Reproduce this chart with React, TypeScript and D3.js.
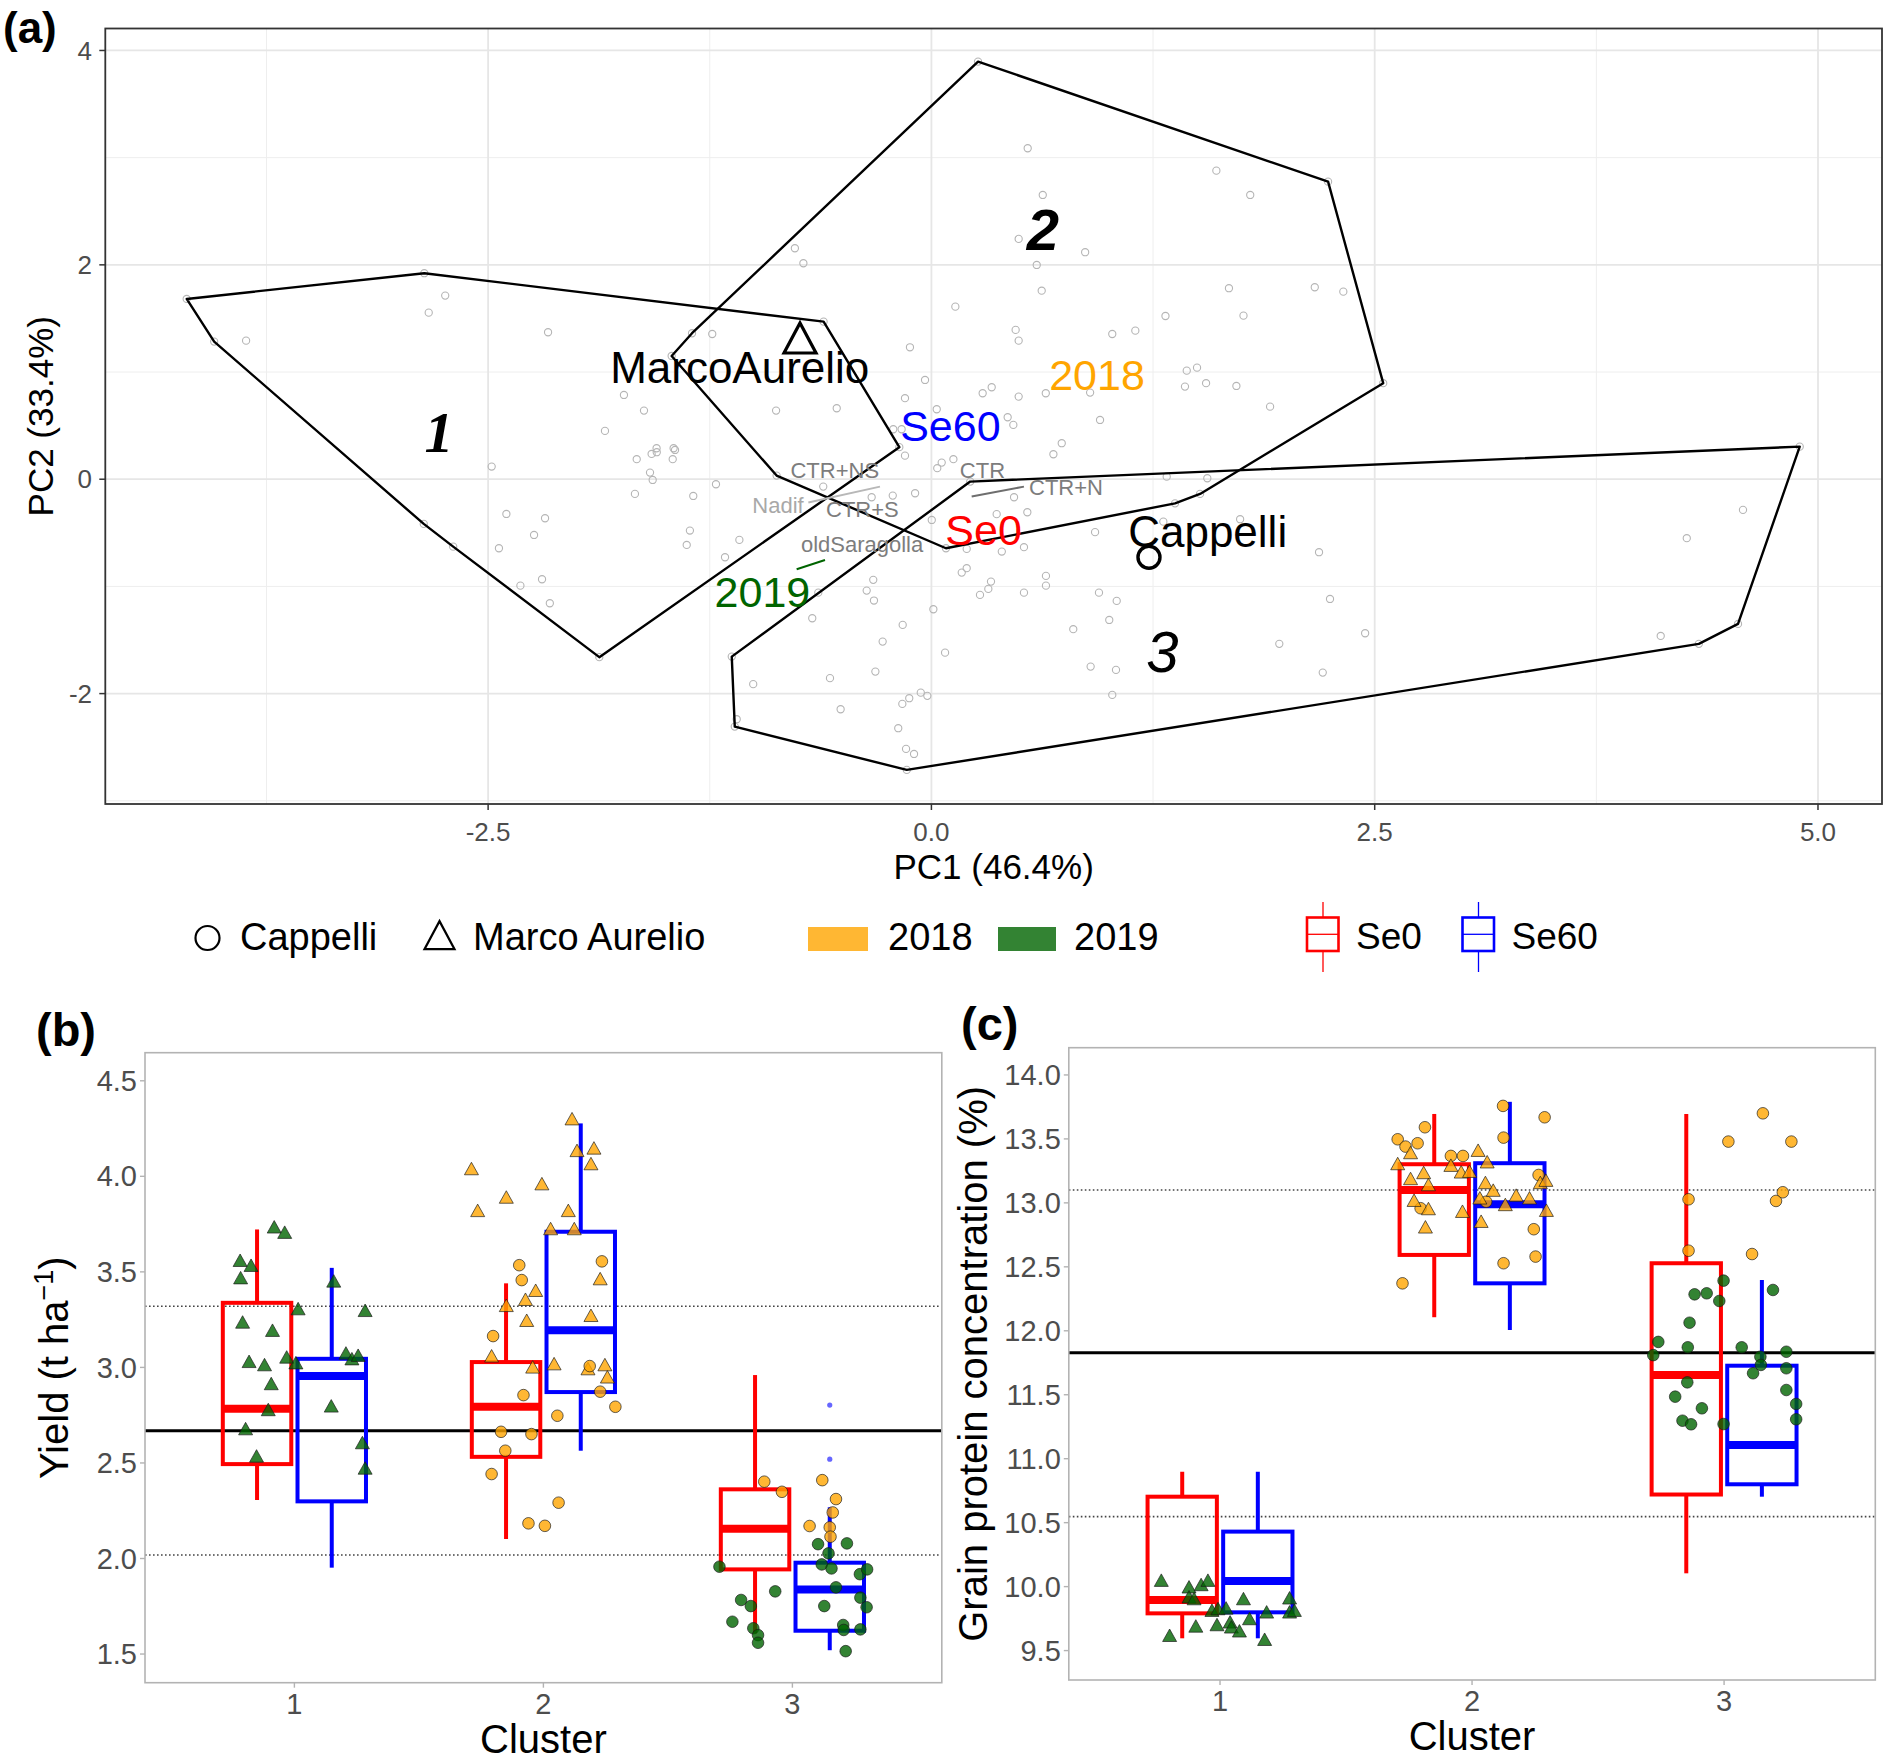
import React from "react";
import * as d3 from "d3";

const FONT = "'Liberation Sans', Arial, Helvetica, sans-serif";

// ---------------- Panel (a): PCA ----------------
const pcaXTicks = [-2.5, 0, 2.5, 5];
const pcaXMinor = [-3.75, -1.25, 1.25, 3.75];
const pcaYTicks = [-2, 0, 2, 4];
const pcaYMinor = [-3, -1, 1, 3];

const pcaScores: [number, number][] = [
  [-2.742, 1.713], [-2.835, 1.554], [-3.865, 1.293], [-2.162, 1.371], [-1.236, 1.355], [-0.77, 2.155], [-0.722, 2.015], [0.135, 1.61], [-1.55, 0.289], [-1.454, 0.289],
  [-0.121, 1.231], [-0.036, 0.926], [0.34, 0.858], [0.289, 0.802], [-0.149, 0.756], [-0.534, 0.662], [-0.876, 0.64], [-1.621, 0.64], [-1.734, 0.786], [-1.841, 0.451],
  [0.03, 0.653], [-0.215, 0.466], [-0.168, 0.466], [-1.446, 0.273], [-1.549, 0.252], [-1.578, 0.236], [-1.662, 0.187], [-1.459, 0.187], [-0.149, 0.22], [0.124, 0.187],
  [0.058, 0.155], [0.033, 0.103], [-1.587, 0.062], [-1.572, -0.007], [-1.215, -0.047], [-0.61, -0.069], [-1.672, -0.137], [-1.343, -0.156], [-0.337, -0.168], [-0.218, -0.153],
  [-0.092, -0.131], [0.002, -0.38], [0.368, -0.326], [-1.362, -0.479], [-1.083, -0.566], [-1.38, -0.613], [0.199, -0.65], [0.397, -0.675], [-1.164, -0.728], [0.171, -0.871],
  [0.199, -0.83], [0.336, -0.955], [0.321, -1.023], [0.274, -1.079], [-0.328, -0.939], [-0.365, -1.039], [-0.324, -1.132], [-0.638, -1.058], [0.011, -1.213], [-0.672, -1.297],
  [-0.162, -1.359], [-0.275, -1.515], [0.077, -1.618], [-0.572, -1.856], [-0.316, -1.795], [-1.005, -1.912], [-0.06, -1.991], [-0.125, -2.043], [-0.023, -2.021], [-0.164, -2.096],
  [-0.512, -2.146], [-1.098, -2.239], [-0.187, -2.323], [-0.143, -2.516], [-0.098, -2.563],
  [0.462, 0.507], [0.735, 0.336], [0.688, 0.233], [0.951, 0.553], [1.327, 0.024], [1.556, 0.009], [0.466, -0.168], [0.541, -0.308], [1.308, -0.396], [1.741, -0.373],
  [0.923, -0.494], [0.522, -0.634], [2.186, -0.681], [0.646, -0.902], [0.646, -0.993], [0.522, -1.058], [0.945, -1.058], [1.045, -1.135], [2.248, -1.117], [1.003, -1.313],
  [0.8, -1.399], [2.446, -1.437], [1.962, -1.536], [0.898, -1.748], [1.041, -1.779], [2.207, -1.804],
  [0.543, 3.088], [1.607, 2.879], [1.798, 2.652], [0.628, 2.652], [0.492, 2.242], [0.867, 2.118], [0.594, 1.999], [0.622, 1.759], [1.678, 1.782], [2.162, 1.791],
  [2.323, 1.75], [1.32, 1.523], [1.76, 1.526], [0.475, 1.393], [0.492, 1.293], [1.02, 1.355], [1.15, 1.386], [1.44, 1.013], [1.498, 1.041], [1.43, 0.864],
  [1.549, 0.896], [1.72, 0.87], [1.91, 0.677], [0.492, 0.771], [0.645, 0.802], [0.895, 0.808], [0.43, 0.578],
  [4.577, -0.286], [4.26, -0.55], [4.113, -1.462], [1.02, -2.012],
  [-2.48, 0.118], [-2.397, -0.324], [-2.179, -0.364], [-2.241, -0.52], [-2.439, -0.644], [-2.196, -0.933], [-2.318, -0.993], [-2.152, -1.157],
];

const hullCluster1: [number, number][] = [
  [-4.2, 1.682], [-2.86, 1.922], [-0.608, 1.47], [-0.181, 0.299], [-1.873, -1.66], [-2.697, -0.629], [-2.863, -0.417], [-4.045, 1.284],
];
const hullCluster2: [number, number][] = [
  [0.263, 3.896], [2.237, 2.776], [2.548, 0.896], [1.515, -0.137], [1.374, -0.225], [0.082, -0.644], [-0.873, 0.034], [-1.465, 1.15], [-1.35, 1.362],
];
const hullCluster3: [number, number][] = [
  [0.219, -0.022], [4.897, 0.304], [4.549, -1.35], [4.328, -1.536], [-0.139, -2.712], [-1.109, -2.308], [-1.126, -1.655],
];

const clusterLabels = [
  { label: "1", x: -2.777, y: 0.257 },
  { label: "2", x: 0.628, y: 2.139 },
  { label: "3", x: 1.303, y: -1.795 },
];
const genotypeLabels = [
  { label: "MarcoAurelio", x: -1.081, y: 0.896 },
  { label: "Cappelli", x: 1.558, y: -0.629 },
];
const genotypeMarkers = [
  { genotype: "MarcoAurelio", x: -0.741, y: 1.284 },
  { genotype: "Cappelli", x: 1.227, y: -0.728 },
];
const seLabels = [
  { label: "Se60", x: 0.107, y: 0.36 },
  { label: "Se0", x: 0.294, y: -0.613 },
];
const yearLabels = [
  { label: "2018", x: 0.934, y: 0.833 },
  { label: "2019", x: -0.953, y: -1.188 },
];
const treatmentLabels = [
  { label: "CTR+NS", x: -0.545, y: 0.015 },
  { label: "Nadif", x: -0.865, y: -0.317 },
  { label: "CTR+S", x: -0.389, y: -0.349 },
  { label: "oldSaragolla", x: -0.391, y: -0.675 },
  { label: "CTR", x: 0.288, y: 0.015 },
  { label: "CTR+N", x: 0.759, y: -0.146 },
];
const labelSegments = [
  { from: [-0.694, -0.218], to: [-0.29, -0.069], kind: "light" },
  { from: [-0.76, -0.84], to: [-0.6, -0.753], kind: "green" },
  { from: [0.227, -0.162], to: [0.522, -0.069], kind: "dark" },
];

// ---------------- Panels (b), (c): boxplots ----------------
const clusters = [1, 2, 3];
const yieldTicks = [1.5, 2.0, 2.5, 3.0, 3.5, 4.0, 4.5];
const proteinTicks = [9.5, 10.0, 10.5, 11.0, 11.5, 12.0, 12.5, 13.0, 13.5, 14.0];

const yieldBoxes = [
  { cl: 1, se: "Se0", lo: 2.306, q1: 2.494, med: 2.784, q3: 3.338, hi: 3.722 },
  { cl: 1, se: "Se60", lo: 1.952, q1: 2.299, med: 2.955, q3: 3.045, hi: 3.521 },
  { cl: 2, se: "Se0", lo: 2.102, q1: 2.532, med: 2.794, q3: 3.028, hi: 3.44 },
  { cl: 2, se: "Se60", lo: 2.564, q1: 2.871, med: 3.195, q3: 3.71, hi: 4.277 },
  { cl: 3, se: "Se0", lo: 1.608, q1: 1.943, med: 2.156, q3: 2.362, hi: 2.96 },
  { cl: 3, se: "Se60", lo: 1.52, q1: 1.622, med: 1.838, q3: 1.978, hi: 2.268 },
];
const yieldOutliers = [
  { cl: 3, se: "Se60", v: 2.803 },
  { cl: 3, se: "Se60", v: 2.52 },
];
const yieldMean = 2.668;
const yieldDotted = [3.32, 2.018];

// [cluster, jitter, value, genotype, year]
const yieldPoints: [number, number, number, string, number][] = [
  [1, -0.081, 3.728, "MA", 2019], [1, -0.039, 3.7, "MA", 2019], [1, -0.218, 3.553, "MA", 2019], [1, -0.174, 3.527, "MA", 2019],
  [1, -0.216, 3.462, "MA", 2019], [1, 0.158, 3.445, "MA", 2019], [1, 0.015, 3.3, "MA", 2019], [1, 0.284, 3.291, "MA", 2019],
  [1, -0.208, 3.23, "MA", 2019], [1, -0.088, 3.187, "MA", 2019], [1, -0.182, 3.024, "MA", 2019], [1, -0.12, 3.007, "MA", 2019],
  [1, -0.031, 3.047, "MA", 2019], [1, 0.006, 3.017, "MA", 2019], [1, 0.207, 3.068, "MA", 2019], [1, 0.231, 3.038, "MA", 2019],
  [1, 0.256, 3.056, "MA", 2019], [1, -0.093, 2.908, "MA", 2019], [1, 0.148, 2.791, "MA", 2019], [1, -0.105, 2.772, "MA", 2019],
  [1, -0.196, 2.672, "MA", 2019], [1, 0.273, 2.599, "MA", 2019], [1, -0.152, 2.529, "MA", 2019], [1, 0.284, 2.466, "MA", 2019],
  [2, 0.115, 4.294, "MA", 2018], [2, -0.289, 4.033, "MA", 2018], [2, 0.135, 4.128, "MA", 2018], [2, 0.203, 4.141, "MA", 2018],
  [2, 0.191, 4.059, "MA", 2018], [2, -0.006, 3.954, "MA", 2018], [2, -0.149, 3.884, "MA", 2018], [2, -0.264, 3.814, "MA", 2018],
  [2, 0.1, 3.814, "MA", 2018], [2, 0.029, 3.719, "MA", 2018], [2, 0.124, 3.719, "MA", 2018], [2, -0.031, 3.396, "MA", 2018],
  [2, -0.072, 3.349, "MA", 2018], [2, 0.228, 3.457, "MA", 2018], [2, -0.149, 3.317, "MA", 2018], [2, -0.067, 3.239, "MA", 2018],
  [2, 0.191, 3.265, "MA", 2018], [2, -0.208, 3.053, "MA", 2018], [2, -0.043, 2.995, "MA", 2018], [2, 0.043, 3.012, "MA", 2018],
  [2, 0.179, 2.986, "MA", 2018], [2, 0.247, 3.007, "MA", 2018], [2, 0.257, 2.943, "MA", 2018],
  [2, -0.097, 3.535, "C", 2018], [2, -0.087, 3.457, "C", 2018], [2, 0.235, 3.555, "C", 2018], [2, -0.202, 3.164, "C", 2018],
  [2, -0.08, 2.855, "C", 2018], [2, 0.228, 2.873, "C", 2018], [2, 0.289, 2.794, "C", 2018], [2, 0.056, 2.747, "C", 2018],
  [2, -0.17, 2.663, "C", 2018], [2, -0.048, 2.651, "C", 2018], [2, -0.153, 2.564, "C", 2018], [2, -0.208, 2.442, "C", 2018],
  [2, 0.061, 2.292, "C", 2018], [2, -0.06, 2.184, "C", 2018], [2, 0.006, 2.171, "C", 2018], [2, 0.186, 3.007, "C", 2018],
  [3, -0.113, 2.402, "C", 2018], [3, -0.042, 2.349, "C", 2018], [3, 0.12, 2.41, "C", 2018], [3, 0.175, 2.311, "C", 2018],
  [3, 0.162, 2.241, "C", 2018], [3, 0.069, 2.17, "C", 2018], [3, 0.15, 2.163, "C", 2018], [3, 0.153, 2.114, "C", 2018],
  [3, -0.293, 1.957, "C", 2019], [3, -0.206, 1.783, "C", 2019], [3, -0.167, 1.751, "C", 2019], [3, -0.069, 1.828, "C", 2019],
  [3, -0.241, 1.669, "C", 2019], [3, -0.157, 1.635, "C", 2019], [3, -0.138, 1.599, "C", 2019], [3, -0.138, 1.559, "C", 2019],
  [3, 0.103, 2.075, "C", 2019], [3, 0.219, 2.079, "C", 2019], [3, 0.145, 2.027, "C", 2019], [3, 0.118, 1.969, "C", 2019],
  [3, 0.157, 1.948, "C", 2019], [3, 0.175, 1.849, "C", 2019], [3, 0.271, 1.918, "C", 2019], [3, 0.3, 1.943, "C", 2019],
  [3, 0.128, 1.751, "C", 2019], [3, 0.273, 1.795, "C", 2019], [3, 0.298, 1.745, "C", 2019], [3, 0.204, 1.652, "C", 2019],
  [3, 0.206, 1.626, "C", 2019], [3, 0.273, 1.629, "C", 2019], [3, 0.214, 1.515, "C", 2019],
];

const proteinBoxes = [
  { cl: 1, se: "Se0", lo: 9.596, q1: 9.791, med: 9.895, q3: 10.703, hi: 10.898 },
  { cl: 1, se: "Se60", lo: 9.596, q1: 9.799, med: 10.044, q3: 10.43, hi: 10.898 },
  { cl: 2, se: "Se0", lo: 12.106, q1: 12.593, med: 13.1, q3: 13.302, hi: 13.695 },
  { cl: 2, se: "Se60", lo: 12.006, q1: 12.371, med: 12.99, q3: 13.31, hi: 13.79 },
  { cl: 3, se: "Se0", lo: 10.104, q1: 10.72, med: 11.655, q3: 12.528, hi: 13.695 },
  { cl: 3, se: "Se60", lo: 10.703, q1: 10.8, med: 11.107, q3: 11.727, hi: 12.397 },
];
const proteinMean = 11.829;
const proteinDotted = [13.1, 10.547];

const proteinPoints: [number, number, number, string, number][] = [
  [1, -0.233, 10.039, "MA", 2019], [1, -0.123, 9.987, "MA", 2019], [1, -0.075, 10.005, "MA", 2019], [1, -0.048, 10.039, "MA", 2019],
  [1, -0.123, 9.909, "MA", 2019], [1, -0.103, 9.895, "MA", 2019], [1, 0.093, 9.895, "MA", 2019], [1, 0.276, 9.901, "MA", 2019],
  [1, -0.032, 9.804, "MA", 2019], [1, -0.008, 9.817, "MA", 2019], [1, 0.024, 9.822, "MA", 2019], [1, 0.185, 9.791, "MA", 2019],
  [1, 0.276, 9.791, "MA", 2019], [1, 0.295, 9.804, "MA", 2019], [1, -0.2, 9.608, "MA", 2019], [1, -0.096, 9.681, "MA", 2019],
  [1, -0.012, 9.692, "MA", 2019], [1, 0.04, 9.713, "MA", 2019], [1, 0.045, 9.674, "MA", 2019], [1, 0.077, 9.643, "MA", 2019],
  [1, 0.117, 9.739, "MA", 2019], [1, 0.177, 9.577, "MA", 2019],
  [2, -0.295, 13.497, "C", 2018], [2, -0.264, 13.44, "C", 2018], [2, -0.216, 13.466, "C", 2018], [2, -0.187, 13.591, "C", 2018],
  [2, -0.084, 13.367, "C", 2018], [2, -0.036, 13.367, "C", 2018], [2, -0.276, 12.371, "C", 2018], [2, -0.204, 12.958, "C", 2018],
  [2, 0.123, 13.758, "C", 2018], [2, 0.125, 13.51, "C", 2018], [2, 0.288, 13.669, "C", 2018], [2, 0.264, 13.218, "C", 2018],
  [2, 0.056, 13.009, "C", 2018], [2, 0.245, 12.794, "C", 2018], [2, 0.252, 12.58, "C", 2018], [2, 0.125, 12.528, "C", 2018],
  [2, -0.295, 13.296, "MA", 2018], [2, -0.244, 13.382, "MA", 2018], [2, -0.244, 13.179, "MA", 2018], [2, -0.192, 13.226, "MA", 2018],
  [2, -0.173, 13.132, "MA", 2018], [2, -0.084, 13.283, "MA", 2018], [2, -0.043, 13.231, "MA", 2018], [2, -0.01, 13.236, "MA", 2018],
  [2, 0.024, 13.4, "MA", 2018], [2, 0.06, 13.31, "MA", 2018], [2, -0.23, 13.009, "MA", 2018], [2, -0.173, 12.944, "MA", 2018],
  [2, -0.038, 12.923, "MA", 2018], [2, -0.185, 12.801, "MA", 2018], [2, 0.053, 13.148, "MA", 2018], [2, 0.084, 13.088, "MA", 2018],
  [2, 0.031, 13.028, "MA", 2018], [2, 0.132, 12.976, "MA", 2018], [2, 0.175, 13.049, "MA", 2018], [2, 0.228, 13.028, "MA", 2018],
  [2, 0.036, 12.845, "MA", 2018], [2, 0.271, 13.148, "MA", 2018], [2, 0.293, 13.166, "MA", 2018], [2, 0.295, 12.931, "MA", 2018],
  [3, 0.017, 13.479, "C", 2018], [3, 0.154, 13.7, "C", 2018], [3, 0.267, 13.479, "C", 2018], [3, -0.141, 13.028, "C", 2018],
  [3, 0.206, 13.015, "C", 2018], [3, 0.233, 13.083, "C", 2018], [3, -0.141, 12.626, "C", 2018], [3, 0.111, 12.6, "C", 2018],
  [3, -0.002, 12.392, "C", 2019], [3, -0.117, 12.285, "C", 2019], [3, -0.069, 12.293, "C", 2019], [3, -0.019, 12.233, "C", 2019],
  [3, -0.137, 12.063, "C", 2019], [3, -0.261, 11.913, "C", 2019], [3, -0.281, 11.81, "C", 2019], [3, -0.144, 11.871, "C", 2019],
  [3, 0.07, 11.871, "C", 2019], [3, 0.194, 12.319, "C", 2019], [3, 0.144, 11.797, "C", 2019], [3, 0.247, 11.836, "C", 2019],
  [3, 0.146, 11.733, "C", 2019], [3, 0.247, 11.707, "C", 2019], [3, 0.115, 11.668, "C", 2019], [3, -0.146, 11.597, "C", 2019],
  [3, 0.247, 11.537, "C", 2019], [3, -0.194, 11.485, "C", 2019], [3, -0.088, 11.394, "C", 2019], [3, -0.165, 11.297, "C", 2019],
  [3, -0.131, 11.269, "C", 2019], [3, -0.002, 11.271, "C", 2019], [3, 0.286, 11.428, "C", 2019], [3, 0.286, 11.308, "C", 2019],
];

const seColors: Record<string, string> = { Se0: "#FF0000", Se60: "#0000FF" };
const yearColors: Record<number, string> = { 2018: "#FFA500", 2019: "#006400" };
const legendYearFill: Record<number, string> = { 2018: "#FFB733", 2019: "#338333" };
const seDodge: Record<string, number> = { Se0: -0.15, Se60: 0.15 };
const BOX_W = 0.275;

function tri(cx: number, cy: number, w: number, h: number) {
  return `M${cx},${cy - h * 0.62}L${cx + w / 2},${cy + h * 0.38}L${cx - w / 2},${cy + h * 0.38}Z`;
}

type Scale = d3.ScaleLinear<number, number>;

function BoxPanel(props: {
  x: Scale; y: Scale; boxes: any[]; outliers: any[]; points: [number, number, number, string, number][];
  mean: number; dotted: number[]; ticks: number[];
}) {
  const { x, y, boxes, outliers, points, mean, dotted, ticks } = props;
  const [x0, x1] = x.range();
  const [y0, y1] = y.range();
  const grey = "#b3b3b3";
  return (
    <g>
      <rect x={x0} y={y1} width={x1 - x0} height={y0 - y1} fill="white" />
      {dotted.map((v, i) => (
        <line key={"d" + i} x1={x0} x2={x1} y1={y(v)} y2={y(v)} stroke="#444" strokeWidth={1.6} strokeDasharray="1.6,2.4" />
      ))}
      <line x1={x0} x2={x1} y1={y(mean)} y2={y(mean)} stroke="#000" strokeWidth={3} />
      {boxes.map((b, i) => {
        const c = b.cl + seDodge[b.se];
        const col = seColors[b.se];
        const xl = x(c - BOX_W / 2), xr = x(c + BOX_W / 2), xc = x(c);
        return (
          <g key={"b" + i}>
            <line x1={xc} x2={xc} y1={y(b.hi)} y2={y(b.q3)} stroke={col} strokeWidth={4} />
            <line x1={xc} x2={xc} y1={y(b.q1)} y2={y(b.lo)} stroke={col} strokeWidth={4} />
            <rect x={xl} y={y(b.q3)} width={xr - xl} height={y(b.q1) - y(b.q3)} fill="none" stroke={col} strokeWidth={4} />
            <line x1={xl} x2={xr} y1={y(b.med)} y2={y(b.med)} stroke={col} strokeWidth={8} />
          </g>
        );
      })}
      {outliers.map((o, i) => (
        <circle key={"o" + i} cx={x(o.cl + seDodge[o.se])} cy={y(o.v)} r={2.6} fill={seColors[o.se]} fillOpacity={0.6} />
      ))}
      {points.map((p, i) => {
        const [cl, dx, v, g, yr] = p;
        const px = x(cl + dx), py = y(v);
        const fill = yearColors[yr];
        return g === "MA" ? (
          <path key={"p" + i} d={tri(px, py, 14, 12.5)} fill={fill} fillOpacity={0.8} stroke="#1a1a1a" strokeOpacity={0.75} strokeWidth={0.9} />
        ) : (
          <circle key={"p" + i} cx={px} cy={py} r={5.8} fill={fill} fillOpacity={0.8} stroke="#1a1a1a" strokeOpacity={0.75} strokeWidth={0.9} />
        );
      })}
      <rect x={x0} y={y1} width={x1 - x0} height={y0 - y1} fill="none" stroke={grey} strokeWidth={1.6} />
      {ticks.map((t) => (
        <g key={"yt" + t}>
          <line x1={x0 - 5} x2={x0} y1={y(t)} y2={y(t)} stroke={grey} strokeWidth={1.4} />
          <text x={x0 - 8} y={y(t)} dy="0.35em" textAnchor="end" fontSize={29} fill="#4d4d4d">{t.toFixed(1)}</text>
        </g>
      ))}
      {clusters.map((c) => (
        <g key={"xt" + c}>
          <line x1={x(c)} x2={x(c)} y1={y0} y2={y0 + 5} stroke={grey} strokeWidth={1.4} />
          <text x={x(c)} y={y0 + 31} textAnchor="middle" fontSize={29} fill="#4d4d4d">{c}</text>
        </g>
      ))}
      <text x={(x0 + x1) / 2} y={y0 + 70} textAnchor="middle" fontSize={40} fill="#000">Cluster</text>
    </g>
  );
}

export default function App() {
  const xA = d3.scaleLinear().domain([-4.659, 5.361]).range([105.3, 1882]);
  const yA = d3.scaleLinear().domain([-3.03, 4.205]).range([804, 28.5]);
  const xB = d3.scaleLinear().domain([0.4, 3.6]).range([145, 941.8]);
  const yB = d3.scaleLinear().domain([1.35, 4.647]).range([1682.7, 1052.7]);
  const xC = d3.scaleLinear().domain([0.4, 3.6]).range([1068.8, 1875.3]);
  const yC = d3.scaleLinear().domain([9.27, 14.213]).range([1680, 1047.7]);

  const hullPath = d3.line<[number, number]>().x((d) => xA(d[0])).y((d) => yA(d[1])).curve(d3.curveLinearClosed);
  const [ax0, ax1] = xA.range();
  const [ay0, ay1] = yA.range();
  const hullPts = [...hullCluster1, ...hullCluster2, ...hullCluster3];

  const segColor: Record<string, string> = { light: "#b8b8b8", green: "#006400", dark: "#6e6e6e" };
  const treatColor = (l: string) => (l === "Nadif" ? "#a8a8a8" : "#7d7d7d");

  return (
    <svg width={1888} height={1760} style={{ position: "absolute", left: 0, top: 0, background: "white" }} fontFamily={FONT}>
      <rect x={0} y={0} width={1888} height={1760} fill="white" />
      {/* ---------- (a) ---------- */}
      <text x={3} y={43} fontSize={44} fontWeight="bold">(a)</text>
      <g>
        {pcaXMinor.map((t) => (
          <line key={"xm" + t} x1={xA(t)} x2={xA(t)} y1={ay1} y2={ay0} stroke="#eeeeee" strokeWidth={1} />
        ))}
        {pcaYMinor.map((t) => (
          <line key={"ym" + t} x1={ax0} x2={ax1} y1={yA(t)} y2={yA(t)} stroke="#eeeeee" strokeWidth={1} />
        ))}
        {pcaXTicks.map((t) => (
          <line key={"xM" + t} x1={xA(t)} x2={xA(t)} y1={ay1} y2={ay0} stroke="#e6e6e6" strokeWidth={1.8} />
        ))}
        {pcaYTicks.map((t) => (
          <line key={"yM" + t} x1={ax0} x2={ax1} y1={yA(t)} y2={yA(t)} stroke="#e6e6e6" strokeWidth={1.8} />
        ))}
        {[...pcaScores, ...hullPts].map((p, i) => (
          <circle key={"s" + i} cx={xA(p[0])} cy={yA(p[1])} r={3.6} fill="none" stroke="#b5b5b5" strokeWidth={1.1} />
        ))}
        {[hullCluster1, hullCluster2, hullCluster3].map((h, i) => (
          <path key={"h" + i} d={hullPath(h) || ""} fill="none" stroke="#000" strokeWidth={2.4} strokeLinejoin="round" />
        ))}
        {labelSegments.map((s, i) => (
          <line key={"seg" + i} x1={xA(s.from[0])} y1={yA(s.from[1])} x2={xA(s.to[0])} y2={yA(s.to[1])} stroke={segColor[s.kind]} strokeWidth={2} />
        ))}
        {treatmentLabels.map((l) => (
          <text key={l.label} x={xA(l.x)} y={yA(l.y)} textAnchor="middle" fontSize={22} fill={treatColor(l.label)}>{l.label}</text>
        ))}
        {genotypeMarkers.map((m) =>
          m.genotype === "Cappelli" ? (
            <circle key={m.genotype} cx={xA(m.x)} cy={yA(m.y)} r={11} fill="none" stroke="#000" strokeWidth={3.4} />
          ) : (
            <path key={m.genotype} d={tri(xA(m.x), yA(m.y), 32, 30)} fill="none" stroke="#000" strokeWidth={3.2} />
          )
        )}
        {genotypeLabels.map((l) => (
          <text key={l.label} x={xA(l.x)} y={yA(l.y)} textAnchor="middle" fontSize={44} fill="#000">{l.label}</text>
        ))}
        {seLabels.map((l) => (
          <text key={l.label} x={xA(l.x)} y={yA(l.y)} textAnchor="middle" fontSize={43} fill={seColors[l.label]}>{l.label}</text>
        ))}
        {yearLabels.map((l) => (
          <text key={l.label} x={xA(l.x)} y={yA(l.y)} textAnchor="middle" fontSize={43} fill={yearColors[+l.label]}>{l.label}</text>
        ))}
        {clusterLabels.map((l) => (
          <text key={l.label} x={xA(l.x)} y={yA(l.y)} textAnchor="middle" fontSize={58} fontStyle="italic"
            fontWeight={l.label === "3" ? "normal" : "bold"}
            fontFamily={l.label === "1" ? "'Liberation Serif', 'Times New Roman', serif" : FONT} fill="#000">{l.label}</text>
        ))}
        <rect x={ax0} y={ay1} width={ax1 - ax0} height={ay0 - ay1} fill="none" stroke="#333333" strokeWidth={1.8} />
        {pcaXTicks.map((t) => (
          <g key={"xt" + t}>
            <line x1={xA(t)} x2={xA(t)} y1={ay0} y2={ay0 + 6} stroke="#333" strokeWidth={1.5} />
            <text x={xA(t)} y={841} textAnchor="middle" fontSize={26} fill="#4d4d4d">{t.toFixed(1)}</text>
          </g>
        ))}
        {pcaYTicks.map((t) => (
          <g key={"yt" + t}>
            <line x1={ax0 - 6} x2={ax0} y1={yA(t)} y2={yA(t)} stroke="#333" strokeWidth={1.5} />
            <text x={92} y={yA(t)} dy="0.35em" textAnchor="end" fontSize={26} fill="#4d4d4d">{String(t)}</text>
          </g>
        ))}
        <text x={(ax0 + ax1) / 2} y={879} textAnchor="middle" fontSize={35}>PC1 (46.4%)</text>
        <text transform={`translate(53,${(ay0 + ay1) / 2}) rotate(-90)`} textAnchor="middle" fontSize={35}>PC2 (33.4%)</text>
      </g>

      {/* ---------- Legend ---------- */}
      <g fontSize={38}>
        <circle cx={207.5} cy={938} r={12} fill="none" stroke="#000" strokeWidth={2.2} />
        <text x={240} y={950}>Cappelli</text>
        <path d={tri(439.5, 938.5, 30, 28)} fill="none" stroke="#000" strokeWidth={2.2} />
        <text x={473} y={950}>Marco Aurelio</text>
        <rect x={808} y={927} width={60} height={24} fill={legendYearFill[2018]} />
        <text x={888} y={950}>2018</text>
        <rect x={998} y={927} width={58} height={24} fill={legendYearFill[2019]} />
        <text x={1074} y={950}>2019</text>
        {[{ se: "Se0", x: 1307 }, { se: "Se60", x: 1462.5 }].map((k) => (
          <g key={k.se}>
            <line x1={k.x + 16} x2={k.x + 16} y1={902} y2={917} stroke={seColors[k.se]} strokeWidth={1.3} />
            <line x1={k.x + 16} x2={k.x + 16} y1={951} y2={972} stroke={seColors[k.se]} strokeWidth={1.3} />
            <rect x={k.x} y={917.5} width={31.5} height={33.5} fill="white" stroke={seColors[k.se]} strokeWidth={2.6} />
            <line x1={k.x} x2={k.x + 31.5} y1={934.3} y2={934.3} stroke={seColors[k.se]} strokeWidth={1.3} />
            <text x={k.x + 49} y={949} fontSize={37}>{k.se}</text>
          </g>
        ))}
      </g>

      {/* ---------- (b) ---------- */}
      <text x={36} y={1046} fontSize={47} fontWeight="bold">(b)</text>
      <BoxPanel x={xB} y={yB} boxes={yieldBoxes} outliers={yieldOutliers} points={yieldPoints} mean={yieldMean} dotted={yieldDotted} ticks={yieldTicks} />
      <text transform={`translate(68,${(1052.7 + 1682.7) / 2}) rotate(-90)`} textAnchor="middle" fontSize={40}>
        Yield (t ha<tspan dy={-15} fontSize={27}>−1</tspan><tspan dy={15}>)</tspan>
      </text>

      {/* ---------- (c) ---------- */}
      <text x={961} y={1040} fontSize={47} fontWeight="bold">(c)</text>
      <BoxPanel x={xC} y={yC} boxes={proteinBoxes} outliers={[]} points={proteinPoints} mean={proteinMean} dotted={proteinDotted} ticks={proteinTicks} />
      <text transform={`translate(987,${(1047.7 + 1680) / 2}) rotate(-90)`} textAnchor="middle" fontSize={40}>
        Grain protein concentration (%)
      </text>
    </svg>
  );
}
